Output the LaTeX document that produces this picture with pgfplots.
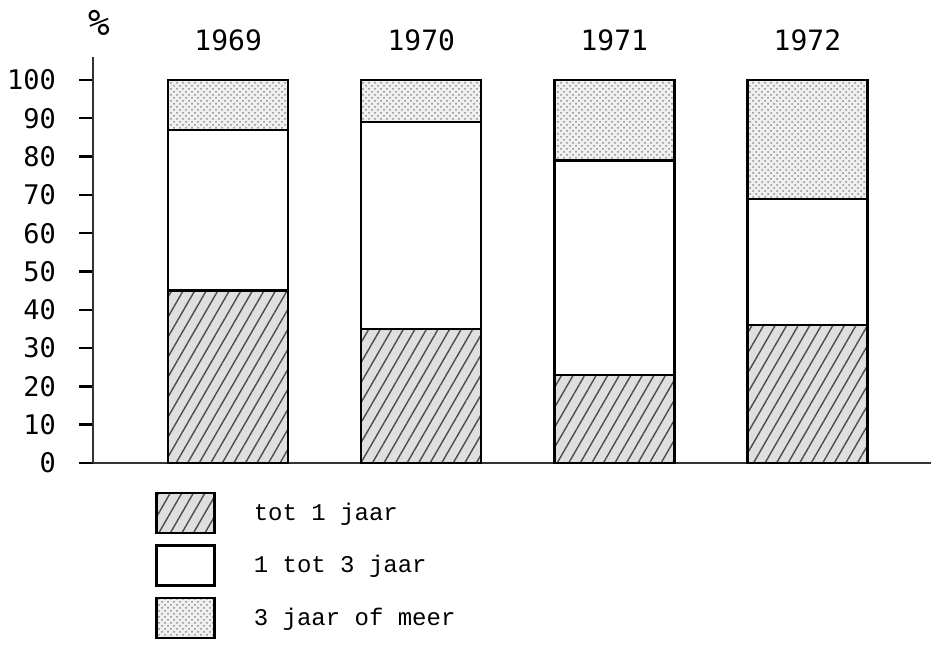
\documentclass[border=0pt]{standalone}
\usepackage{pgfplots}
\pgfplotsset{compat=1.18}
\usepackage{fontspec}
\setmainfont{Liberation Mono}
\newfontfamily\numfont{DejaVu Sans Mono}
\usetikzlibrary{patterns,patterns.meta}
\pgfplotsset{
  mylegend/.style={legend image code/.code={\draw[##1] (0pt,-10pt) rectangle (29pt,10pt);\node[inner sep=0pt, minimum size=0pt, draw=none, fill=none] at (46pt,0pt) {};}}
}
\begin{document}
\begin{tikzpicture}
\begin{axis}[
  scale only axis, width=419pt, height=203pt,
  xmin=-0.70, xmax=3.64, ymin=0, ymax=106,
  axis lines*=left,
  axis line style={line width=1.4pt, black!80},
  xtick=\empty,
  ytick={0,10,...,100},
  tick align=outside,
  major tick length=7pt,
  tick style={line width=1.2pt, black},
  yticklabel style={font=\numfont\fontsize{13.5}{14}\selectfont, xshift=-8pt},
  /pgf/number format/assume math mode=true,
  ybar stacked, bar width=60pt,
  clip=false,
  legend style={draw=none, fill=none, at={(0.074,-0.07)}, anchor=north west,
    font=\fontsize{12}{13}\selectfont, row sep=5pt, inner sep=0pt},
  legend cell align=left,
]
\addplot[mylegend, fill=gray!25, draw=black, line width=1.2pt,
  postaction={pattern={Lines[angle=60,distance=5pt,line width=0.7pt]}, pattern color=black!70}]
  coordinates {(0,45) (1,35) (2,23) (3,36)};
\addlegendentry{tot 1 jaar}
\addplot[mylegend, fill=white, draw=black, line width=1.2pt]
  coordinates {(0,42) (1,54) (2,56) (3,33)};
\addlegendentry{1 tot 3 jaar}
\addplot[mylegend, fill=gray!12, draw=black, line width=1.2pt,
  postaction={pattern=crosshatch dots, pattern color=black!45}]
  coordinates {(0,13) (1,11) (2,21) (3,31)};
\addlegendentry{3 jaar of meer}
\node[font=\numfont\fontsize{14}{14}\selectfont] at (axis cs:0,106) [yshift=8.5pt] {1969};
\node[font=\numfont\fontsize{14}{14}\selectfont] at (axis cs:1,106) [yshift=8.5pt] {1970};
\node[font=\numfont\fontsize{14}{14}\selectfont] at (axis cs:2,106) [yshift=8.5pt] {1971};
\node[font=\numfont\fontsize{14}{14}\selectfont] at (axis cs:3,106) [yshift=8.5pt] {1972};
\node[font=\numfont\fontsize{18}{18}\selectfont] at (rel axis cs:0,1) [xshift=3pt, yshift=17pt] {\%};
\end{axis}
\pgfresetboundingbox
\path (-46.5pt,-102.5pt) rectangle (419pt,231.5pt);
\end{tikzpicture}
\end{document}
